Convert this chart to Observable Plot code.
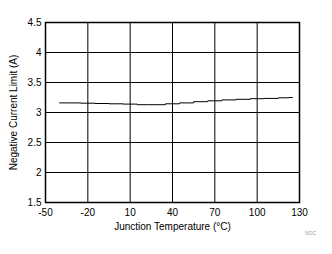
<!DOCTYPE html>
<html><head><meta charset="utf-8">
<script src="https://cdn.jsdelivr.net/npm/d3@7"></script>
<script src="https://cdn.jsdelivr.net/npm/@observablehq/plot@0.6"></script>
<style>
html,body{margin:0;padding:0;background:#fff;}
svg{display:block;}
</style>
</head><body><div id="chart"></div>
<script>
const temps = [-40,-30,-20,-10,0,10,20,25,30,40,50,60,70,80,90,100,110,120,125];
const limits = [3.16,3.16,3.155,3.15,3.145,3.14,3.13,3.13,3.13,3.145,3.16,3.18,3.195,3.21,3.22,3.23,3.235,3.245,3.25];
const xTicks = [-50,-20,10,40,70,100,130];
const xTickLabels = ["-50","-20","10","40","70","100","130"];
const yTicks = [1.5,2,2.5,3,3.5,4,4.5];
const yTickLabels = ["1.5","2","2.5","3","3.5","4","4.5"];
const data = temps.map((t,i)=>({t, v: limits[i]}));

const chart = Plot.plot({
  width: 332, height: 254,
  marginLeft: 45, marginRight: 33, marginTop: 22, marginBottom: 52,
  style: {fontFamily: "Liberation Sans, Arial, sans-serif", fontSize: "10px", color: "#000", background: "#fff"},
  x: {domain: [-50,130], ticks: xTicks, tickSize: 0, tickPadding: 6, tickFormat: (d)=>xTickLabels[xTicks.indexOf(d)], label: "Junction Temperature (°C)", labelAnchor: "center", labelArrow: "none", labelOffset: 27},
  y: {domain: [1.5,4.5], ticks: yTicks, tickSize: 0, tickPadding: 4, tickFormat: (d)=>yTickLabels[yTicks.indexOf(d)], label: "Negative Current Limit (A)", labelAnchor: "center", labelArrow: "none", labelOffset: 36},
  marks: [
    Plot.ruleX(xTicks, {stroke: "#000", strokeWidth: 1}),
    Plot.ruleY(yTicks, {stroke: "#000", strokeWidth: 1}),
    Plot.line(data, {x: "t", y: "v", stroke: "#000", strokeWidth: 1, curve: "step"}),
    Plot.frame({stroke: "#000", strokeWidth: 1.5})
  ]
});
chart.querySelectorAll("text").forEach(t=>t.setAttribute("fill","#000"));
const svgns = "http://www.w3.org/2000/svg";
const noc = document.createElementNS(svgns, "text");
noc.setAttribute("x", 316); noc.setAttribute("y", 235);
noc.setAttribute("text-anchor", "end");
noc.setAttribute("font-size", "5");
noc.setAttribute("fill", "#999");
noc.textContent = "NOC";
chart.appendChild(noc);
document.getElementById("chart").appendChild(chart);
</script>
</body></html>
